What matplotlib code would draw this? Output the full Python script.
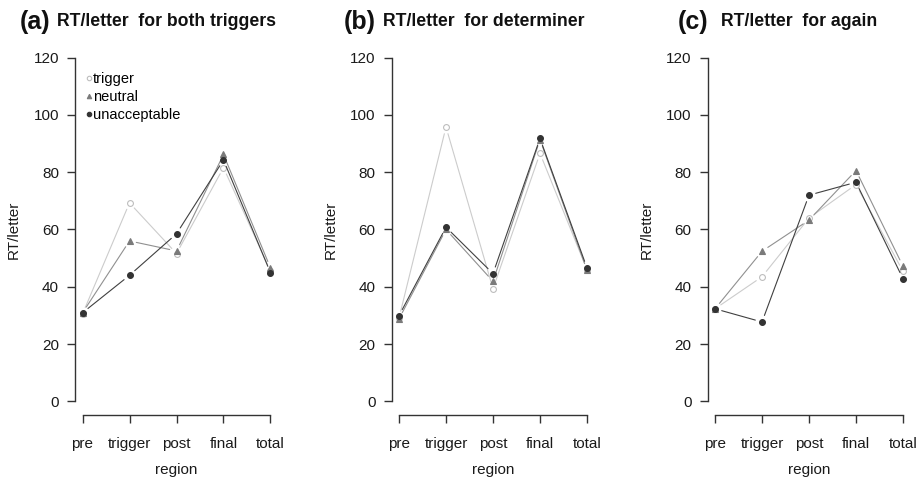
import numpy as np
import matplotlib.pyplot as plt
from matplotlib.lines import Line2D

plt.rcParams['font.family'] = ['Liberation Sans', 'DejaVu Sans']

# ============================== DATA ==============================
regions = ['pre', 'trigger', 'post', 'final', 'total']
series = ['trigger', 'neutral', 'unacceptable']

# (a) both triggers
both_trigger      = [30.5, 69.3, 51.6, 81.6, 45.5]
both_neutral      = [30.9, 56.0, 52.5, 86.2, 46.6]
both_unacceptable = [30.9, 44.0, 58.5, 84.3, 44.9]

# (b) determiner
det_trigger      = [29.1, 95.8, 39.3, 86.6, 46.0]
det_neutral      = [28.8, 60.0, 41.9, 91.4, 45.8]
det_unacceptable = [29.9, 60.8, 44.6, 91.8, 46.6]

# (c) again
again_trigger      = [32.3, 43.5, 64.0, 75.7, 45.4]
again_neutral      = [32.3, 52.4, 63.3, 80.6, 47.2]
again_unacceptable = [32.3, 27.7, 72.0, 76.5, 42.8]

panels = [
    ('(a)', 'RT/letter  for both triggers', [both_trigger, both_neutral, both_unacceptable]),
    ('(b)', 'RT/letter  for determiner',    [det_trigger, det_neutral, det_unacceptable]),
    ('(c)', 'RT/letter  for again',         [again_trigger, again_neutral, again_unacceptable]),
]

# ============================== STYLE ==============================
W, H = 921, 478
styles = {
    'trigger':      dict(marker='o', mfc='white',   mec='#bdbdbd', lc='#cccccc'),
    'neutral':      dict(marker='^', mfc='#7a7a7a', mec='#7a7a7a', lc='#909090'),
    'unacceptable': dict(marker='o', mfc='#333333', mec='#333333', lc='#404040'),
}
axcol = '#333333'
txtcol = '#1a1a1a'

# pixel positions: axes left, panel-label x, title x
ax_left = [75, 391.5, 707.5]
lbl_x   = [20, 344, 678]
ttl_x   = [57, 383, 721]

fig = plt.figure(figsize=(W/100, H/100), dpi=100)

for i, (plab, ptitle, vals) in enumerate(panels):
    ax = fig.add_axes([ax_left[i]/W, 63/H, 203/W, 371/H])
    x = np.arange(len(regions))
    for name, y in zip(series, vals):
        st = styles[name]
        # R type="b": line segments stop short of the points
        for k in range(len(x)-1):
            ax.annotate('', xy=(x[k+1], y[k+1]), xytext=(x[k], y[k]),
                        arrowprops=dict(arrowstyle='-', color=st['lc'], lw=0.8,
                                        shrinkA=5, shrinkB=5))
        ax.plot(x, y, linestyle='none', marker=st['marker'], ms=4.2,
                mfc=st['mfc'], mec=st['mec'], mew=0.8, zorder=3)

    ax.set_xlim(-0.16, 4.16)
    ax.set_ylim(-4.8, 124.8)
    ax.set_xticks(x)
    ax.set_xticklabels(regions)
    ax.set_yticks(np.arange(0, 121, 20))
    for s in ['top', 'right']:
        ax.spines[s].set_visible(False)
    ax.spines['left'].set_bounds(0, 120)
    ax.spines['bottom'].set_bounds(0, 4)
    for s in ['left', 'bottom']:
        ax.spines[s].set_color(axcol)
        ax.spines[s].set_linewidth(1.0)
    ax.tick_params(axis='both', direction='out', length=5.5, width=1.0,
                   color=axcol, labelsize=11, labelcolor=txtcol)
    ax.tick_params(axis='y', pad=6)
    ax.tick_params(axis='x', pad=10)
    ax.set_ylabel('RT/letter', fontsize=11, color=txtcol, labelpad=9)
    ax.set_xlabel('region', fontsize=11, color=txtcol, labelpad=9)

    fig.text(lbl_x[i]/W, 1-22/H, plab, fontsize=18, fontweight='bold',
             va='center', color='#111111')
    fig.text(ttl_x[i]/W, 1-21/H, ptitle, fontsize=12.7, fontweight='bold',
             va='center', color='#111111')

    if i == 0:
        handles = [Line2D([], [], linestyle='none', marker=styles[n]['marker'], ms=3.2,
                          mfc=styles[n]['mfc'], mec=styles[n]['mec'], mew=0.8)
                   for n in series]
        leg = ax.legend(handles, series, loc='upper left', bbox_to_anchor=(0.005, 0.953),
                        frameon=False, fontsize=10.5, handlelength=0.4,
                        handletextpad=0.05, labelspacing=0.28, borderpad=0.2)

plt.savefig('out.png', dpi=100)
